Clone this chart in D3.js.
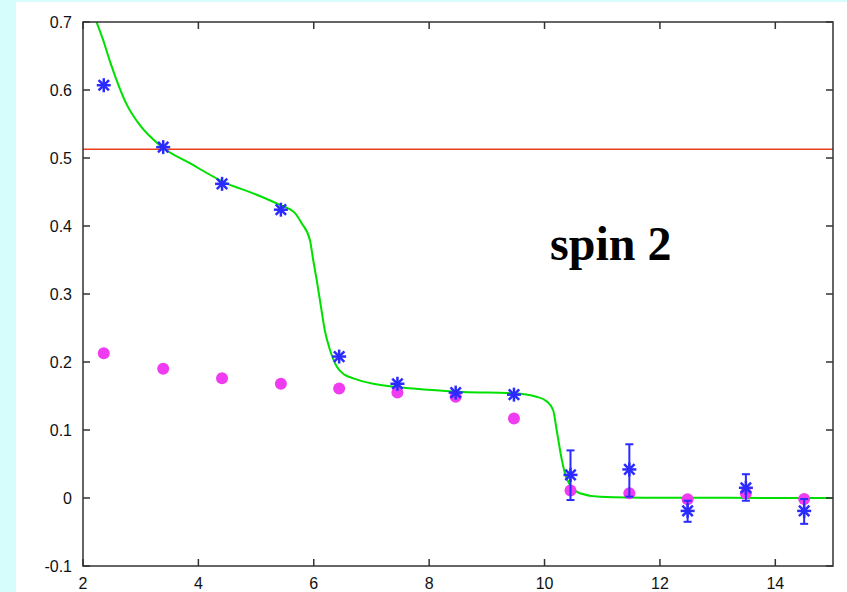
<!DOCTYPE html>
<html>
<head>
<meta charset="utf-8">
<script src="https://cdn.jsdelivr.net/npm/d3@7"></script>
<style>
  body { margin: 0; background: #d6fcfc; }
  svg { display: block; }
</style>
</head>
<body>
<svg id="chart" width="847" height="592"></svg>
<script>
// data
var xTicks = [2, 4, 6, 8, 10, 12, 14];
var yTicks = [-0.1, 0, 0.1, 0.2, 0.3, 0.4, 0.5, 0.6, 0.7];
var yTickLabels = ['-0.1', '0', '0.1', '0.2', '0.3', '0.4', '0.5', '0.6', '0.7'];

var pointX = [2.36, 3.39, 4.41, 5.43, 6.44, 7.45, 8.46, 9.47, 10.45, 11.47, 12.48, 13.49, 14.50];
var starY  = [0.607, 0.516, 0.462, 0.424, 0.208, 0.168, 0.155, 0.152, 0.034, 0.042, -0.019, 0.015, -0.019];
var starLo = [null, null, null, null, null, null, null, null, -0.003, 0.002, -0.035, -0.004, -0.038];
var starHi = [null, null, null, null, null, null, null, null, 0.070, 0.079, -0.004, 0.035, -0.0015];
var dotY   = [0.213, 0.190, 0.176, 0.168, 0.161, 0.155, 0.149, 0.117, 0.011, 0.007, -0.002, 0.007, -0.0015];

var curveX = [2.22, 2.347, 2.46, 2.58, 2.75, 2.98, 3.357, 3.86, 4.43, 5.01, 5.41, 5.674, 5.79, 5.934, 5.99, 6.05, 6.125, 6.19, 6.28, 6.40, 6.54, 6.685, 7.03, 7.72, 8.59, 9.46, 9.86, 10.04, 10.15, 10.21, 10.30, 10.38, 10.61, 10.96, 12.0, 15.0];
var curveY = [0.703, 0.674, 0.644, 0.615, 0.580, 0.549, 0.517, 0.492, 0.465, 0.446, 0.431, 0.419, 0.404, 0.379, 0.350, 0.321, 0.281, 0.247, 0.218, 0.193, 0.181, 0.176, 0.168, 0.161, 0.156, 0.154, 0.149, 0.142, 0.129, 0.100, 0.056, 0.029, 0.007, 0.002, 0.0005, 0.0];

var refLine = 0.5128;
var label = 'spin 2';

var svg = d3.select('#chart');

svg.append('rect')
    .attr('x', 16)
    .attr('y', 2)
    .attr('width', 847 - 16)
    .attr('height', 592 - 2)
    .attr('fill', '#ffffff');

var mLeft = 83, mRight = 833, mTop = 22, mBottom = 566;

var x = d3.scaleLinear().domain([2, 15]).range([mLeft, mRight]);
var y = d3.scaleLinear().domain([-0.1, 0.7]).range([mBottom, mTop]);

var plot = svg.append('g');

plot.append('defs').append('clipPath')
    .attr('id', 'clip')
    .append('rect')
    .attr('x', mLeft).attr('y', mTop)
    .attr('width', mRight - mLeft).attr('height', mBottom - mTop);

// axes, gnuplot style ticks pointing inward and mirrored
var tickLen = 7;
var axisColor = '#333';

var ax = svg.append('g').attr('stroke', axisColor).attr('stroke-width', 1.5);

xTicks.forEach(function (t) {
    ax.append('line')
        .attr('x1', x(t)).attr('x2', x(t))
        .attr('y1', mBottom).attr('y2', mBottom - tickLen);
    ax.append('line')
        .attr('x1', x(t)).attr('x2', x(t))
        .attr('y1', mTop).attr('y2', mTop + tickLen);
});

yTicks.forEach(function (t) {
    ax.append('line')
        .attr('x1', mLeft).attr('x2', mLeft + tickLen)
        .attr('y1', y(t)).attr('y2', y(t));
    ax.append('line')
        .attr('x1', mRight).attr('x2', mRight - tickLen)
        .attr('y1', y(t)).attr('y2', y(t));
});

svg.append('g')
    .selectAll('text')
    .data(xTicks)
    .enter()
    .append('text')
    .attr('x', function (d) { return x(d); })
    .attr('y', 589)
    .attr('text-anchor', 'middle')
    .attr('font-family', 'Liberation Sans, Arial, sans-serif')
    .attr('font-size', 16)
    .attr('fill', '#111')
    .text(function (d) { return d; });

svg.append('g')
    .selectAll('text')
    .data(yTicks)
    .enter()
    .append('text')
    .attr('x', 72)
    .attr('y', function (d) { return y(d) + 5.5; })
    .attr('text-anchor', 'end')
    .attr('font-family', 'Liberation Sans, Arial, sans-serif')
    .attr('font-size', 16)
    .attr('fill', '#111')
    .text(function (d, i) { return yTickLabels[i]; });

// reference line
plot.append('line')
    .attr('x1', mLeft).attr('x2', mRight)
    .attr('y1', y(refLine)).attr('y2', y(refLine))
    .attr('stroke', '#e8401c')
    .attr('stroke-width', 1.5);

// fit curve
var line = d3.line()
    .x(function (d) { return x(d[0]); })
    .y(function (d) { return y(d[1]); })
    .curve(d3.curveMonotoneX);

plot.append('path')
    .datum(d3.zip(curveX, curveY))
    .attr('clip-path', 'url(#clip)')
    .attr('d', line)
    .attr('fill', 'none')
    .attr('stroke', '#00e000')
    .attr('stroke-width', 2);

// magenta dots
plot.append('g')
    .selectAll('circle')
    .data(d3.zip(pointX, dotY))
    .enter()
    .append('circle')
    .attr('cx', function (d) { return x(d[0]); })
    .attr('cy', function (d) { return y(d[1]); })
    .attr('r', 6)
    .attr('fill', '#f03cf0');

// blue stars with error bars
var blue = '#2b2bff';
var stars = plot.append('g').attr('stroke', blue).attr('stroke-width', 2.5);

pointX.forEach(function (px, i) {
    var cx = x(px), cy = y(starY[i]);
    if (starLo[i] !== null) {
        var y1 = y(starLo[i]), y2 = y(starHi[i]);
        stars.append('line').attr('x1', cx).attr('x2', cx).attr('y1', y1).attr('y2', y2).attr('stroke-width', 2);
        stars.append('line').attr('x1', cx - 4).attr('x2', cx + 4).attr('y1', y1).attr('y2', y1).attr('stroke-width', 2);
        stars.append('line').attr('x1', cx - 4).attr('x2', cx + 4).attr('y1', y2).attr('y2', y2).attr('stroke-width', 2);
    }
    var r = 7, d = 5.2;
    stars.append('line').attr('x1', cx).attr('x2', cx).attr('y1', cy - r).attr('y2', cy + r);
    stars.append('line').attr('x1', cx - r).attr('x2', cx + r).attr('y1', cy).attr('y2', cy);
    stars.append('line').attr('x1', cx - d).attr('x2', cx + d).attr('y1', cy - d).attr('y2', cy + d);
    stars.append('line').attr('x1', cx - d).attr('x2', cx + d).attr('y1', cy + d).attr('y2', cy - d);
});

// border
svg.append('rect')
    .attr('x', mLeft).attr('y', mTop)
    .attr('width', mRight - mLeft).attr('height', mBottom - mTop)
    .attr('fill', 'none')
    .attr('stroke', axisColor)
    .attr('stroke-width', 1.5);

svg.append('text')
    .attr('x', 550)
    .attr('y', 260)
    .attr('font-family', 'Liberation Serif, Times New Roman, serif')
    .attr('font-weight', 'bold')
    .attr('font-size', 48)
    .attr('fill', '#000')
    .text(label);
</script>
</body>
</html>
